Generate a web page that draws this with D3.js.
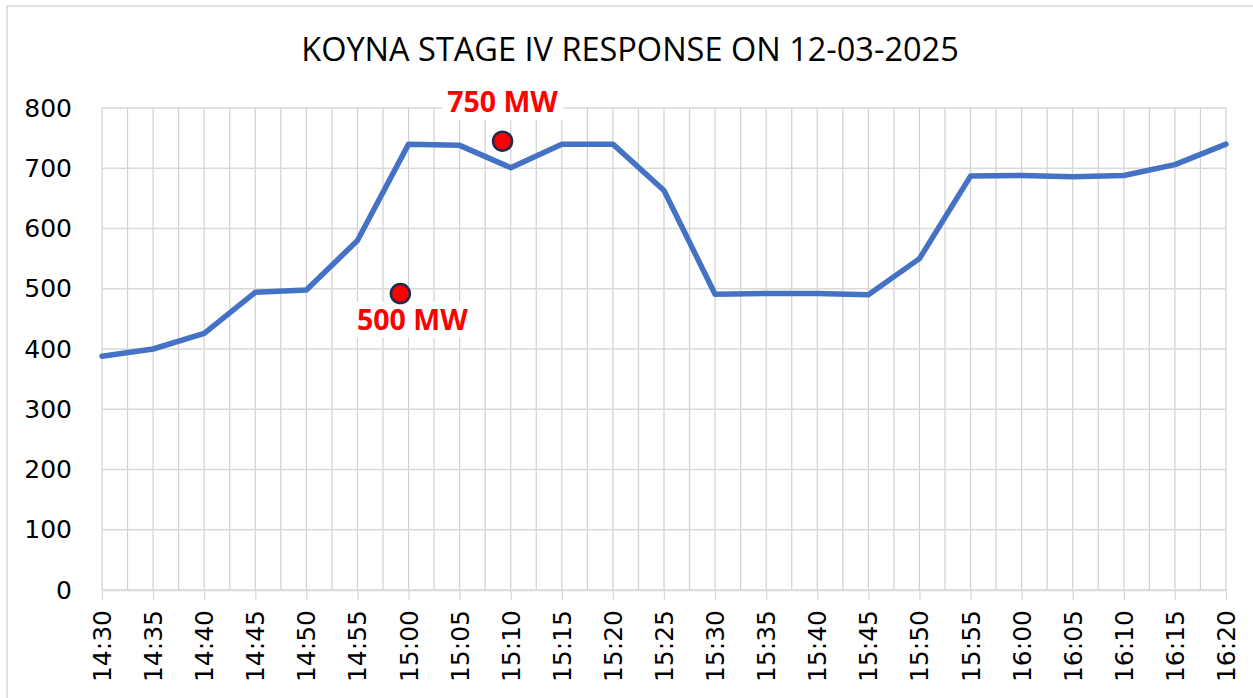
<!DOCTYPE html>
<html>
<head>
<meta charset="utf-8">
<script src="https://cdn.jsdelivr.net/npm/d3@7"></script>
<style>
  body { margin: 0; background: #fff; }
  svg { display: block; }
</style>
</head>
<body>
<div id="chart"></div>
<script>
// Data
var times = ['14:30', '14:35', '14:40', '14:45', '14:50', '14:55', '15:00', '15:05', '15:10', '15:15', '15:20', '15:25',
    '15:30', '15:35', '15:40', '15:45', '15:50', '15:55', '16:00', '16:05', '16:10', '16:15', '16:20'];
var response = [388, 400, 426, 494, 498, 580, 740, 738, 701, 740, 740, 663,
    491, 492, 492, 490, 550, 687, 688, 686, 688, 706, 740];
var yTicks = [0, 100, 200, 300, 400, 500, 600, 700, 800];
// annotation markers: position on the time axis (as index) and value
var markerIndex = [5.84, 7.84];
var markerValue = [492, 745];
var markerLabels = ['500 MW', '750 MW'];

var svgWidth = 1253;
var svgHeight = 698;

var margin = { top: 108, right: 27, bottom: 108, left: 102 };
var chartWidth = svgWidth - margin.left - margin.right;
var chartHeight = svgHeight - margin.top - margin.bottom;

var svg = d3.select('#chart')
    .append('svg')
    .attr('width', svgWidth)
    .attr('height', svgHeight);

// chart frame
svg.append('rect')
    .attr('x', 7)
    .attr('y', 6)
    .attr('width', svgWidth + 20)
    .attr('height', svgHeight + 20)
    .attr('fill', 'none')
    .attr('stroke', '#d9d9d9')
    .attr('stroke-width', 1.5);

// title
svg.append('text')
    .attr('x', 630)
    .attr('y', 61)
    .attr('text-anchor', 'middle')
    .attr('font-family', 'Open Sans')
    .attr('font-size', '32.5px')
    .attr('fill', '#000')
    .text('KOYNA STAGE IV RESPONSE ON 12-03-2025');

var chartGroup = svg.append('g')
    .attr('transform', `translate(${margin.left}, ${margin.top})`);

var xScale = d3.scaleLinear()
    .domain([0, times.length - 1])
    .range([0, chartWidth]);

var yScale = d3.scaleLinear()
    .domain([0, 800])
    .range([chartHeight, 0]);

// vertical gridlines every half step
var halfSteps = d3.range(0, times.length - 0.5, 0.5);
chartGroup.selectAll('.vgrid')
    .data(halfSteps)
    .enter()
    .append('line')
    .attr('x1', d => xScale(d))
    .attr('x2', d => xScale(d))
    .attr('y1', 0)
    .attr('y2', chartHeight)
    .attr('stroke', '#d0d0d0')
    .attr('stroke-width', 1.2);

// horizontal gridlines
chartGroup.selectAll('.hgrid')
    .data(yTicks)
    .enter()
    .append('line')
    .attr('x1', 0)
    .attr('x2', chartWidth)
    .attr('y1', d => yScale(d))
    .attr('y2', d => yScale(d))
    .attr('stroke', '#d9d9d9')
    .attr('stroke-width', 1.3);

// y axis labels
var yAxis = d3.axisLeft(yScale)
    .tickValues(yTicks)
    .tickSize(0)
    .tickPadding(30);

var yAxisGroup = chartGroup.append('g').call(yAxis);
yAxisGroup.select('.domain').remove();
yAxisGroup.selectAll('text')
    .attr('font-family', 'DejaVu Sans')
    .attr('font-size', '25px')
    .attr('fill', '#000');

// x axis with outside ticks
var xAxis = d3.axisBottom(xScale)
    .tickValues(d3.range(times.length))
    .tickFormat(i => times[i])
    .tickSizeInner(10)
    .tickSizeOuter(0)
    .tickPadding(12);

var xAxisGroup = chartGroup.append('g')
    .attr('transform', `translate(0, ${chartHeight})`)
    .call(xAxis);
xAxisGroup.select('.domain')
    .attr('stroke', '#d9d9d9')
    .attr('stroke-width', 1.3);
xAxisGroup.selectAll('.tick line')
    .attr('stroke', '#d9d9d9')
    .attr('stroke-width', 1.3);
xAxisGroup.selectAll('text')
    .attr('font-family', 'DejaVu Sans')
    .attr('font-size', '25px')
    .attr('fill', '#000')
    .attr('text-anchor', 'end')
    .attr('dominant-baseline', 'central')
    .attr('dy', null)
    .attr('y', 0)
    .attr('transform', 'translate(0, 20) rotate(-90)');

// response line
var line = d3.line()
    .x((d, i) => xScale(i))
    .y(d => yScale(d));

chartGroup.append('path')
    .datum(response)
    .attr('d', line)
    .attr('fill', 'none')
    .attr('stroke', '#4472C4')
    .attr('stroke-width', 5.5)
    .attr('stroke-linejoin', 'round')
    .attr('stroke-linecap', 'round');

// annotation labels with white text boxes
var labelGroup = chartGroup.append('g');
var labelDx = [12, 0];
var labelDy = [36, -29];
markerLabels.forEach(function(lab, i) {
    var g = labelGroup.append('g');
    var t = g.append('text')
        .attr('x', xScale(markerIndex[i]) + labelDx[i])
        .attr('y', yScale(markerValue[i]) + labelDy[i])
        .attr('text-anchor', 'middle')
        .attr('font-family', 'Open Sans')
        .attr('font-weight', 'bold')
        .attr('font-size', '28.5px')
        .attr('fill', '#ff0000')
        .text(lab);
    var bb = t.node().getBBox();
    g.insert('rect', 'text')
        .attr('x', bb.x - 5)
        .attr('y', bb.y + 2)
        .attr('width', bb.width + 10)
        .attr('height', bb.height - 2)
        .attr('fill', '#fff');
});

// markers
chartGroup.selectAll('.marker')
    .data(markerValue)
    .enter()
    .append('circle')
    .attr('cx', (d, i) => xScale(markerIndex[i]))
    .attr('cy', d => yScale(d))
    .attr('r', 9.5)
    .attr('fill', '#ff0000')
    .attr('stroke', '#1f2d4d')
    .attr('stroke-width', 2.5);
</script>
</body>
</html>
